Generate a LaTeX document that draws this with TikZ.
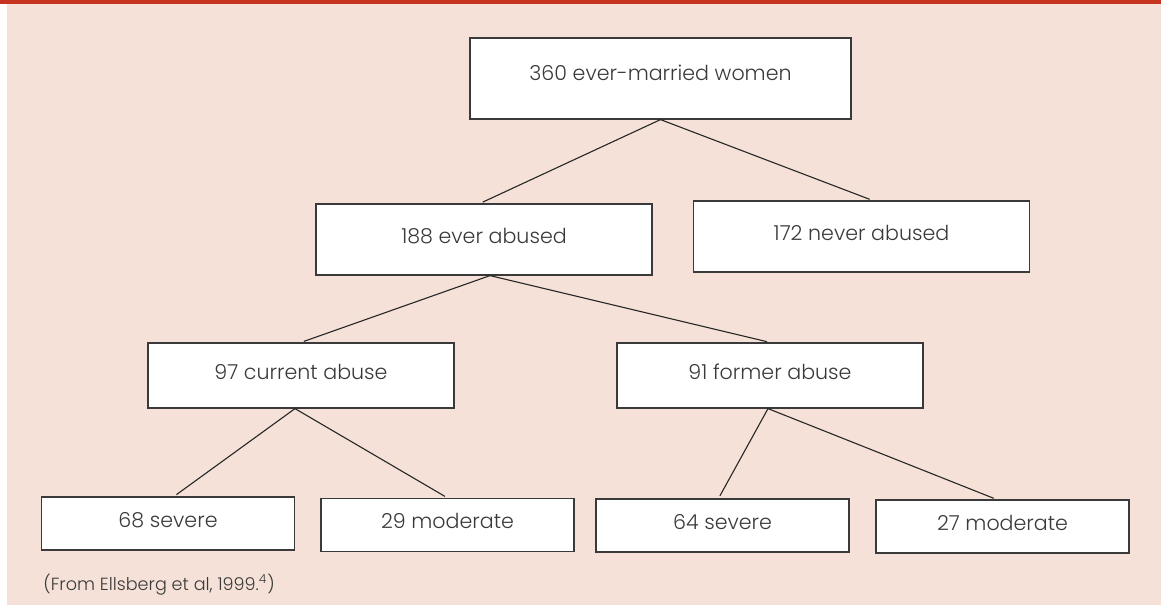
\documentclass[tikz,border=0pt]{standalone}
\usepackage{fontspec}
\setmainfont{Poppins}[UprightFont=* Light]

\definecolor{peach}{RGB}{245,225,215}
\definecolor{barred}{RGB}{198,52,32}
\definecolor{inkgray}{RGB}{58,58,58}

\begin{document}
\begin{tikzpicture}[x=0.5pt, y=-0.5pt,
					auto,
					every node/.style={text=inkgray},
					box/.style={draw=inkgray, fill=white, line width=0.6pt,
					            inner sep=0pt, text depth=4pt,
					            font=\fontsize{10.3}{12}\selectfont},
					top box/.style={box, minimum width=190.5pt, minimum height=40.5pt, text depth=6pt},
					upper box/.style={box, minimum width=168pt, minimum height=35.5pt},
					mid box/.style={box, minimum width=153pt, minimum height=32.5pt},
					leaf box/.style={box, minimum width=126.5pt, minimum height=26.5pt},
					link/.style={draw=black!85, line width=0.55pt, shorten >=1.5pt}]

  % background and top rule
  \useasboundingbox (0,0) rectangle (1161,605);
  \fill[peach] (7,3) rectangle (1161,605);
  \fill[barred] (0,0) rectangle (1161,3.5);

  \node[top box]   (all)     at (660.5,78.5) {360 ever-married women};
  \node[upper box] (ever)    at (484,239.5)  {188 ever abused};
  \node[upper box] (never)   at (861.5,236.5) {172 never abused};
  \node[mid box]   (current) at (301,375.5)  {97 current abuse};
  \node[mid box]   (former)  at (770,375.5)  {91 former abuse};
  \node[leaf box]  (cursev)  at (168,523.5)  {68 severe};
  \node[leaf box]  (curmod)  at (447.5,525)  {29 moderate};
  \node[leaf box]  (forsev)  at (722.5,525.5) {64 severe};
  \node[leaf box]  (formod)  at (1002.5,526.5) {27 moderate};

  \node[anchor=west, inner sep=0pt, font=\fontsize{8.8}{10}\selectfont] (source) at (43,585)
    {(From Ellsberg et al, 1999.\textsuperscript{4})};

  \path[link]
    (all.south) edge ([xshift=-2pt]ever.north)
                edge ([xshift=5.5pt]never.north)
    ([xshift=3pt]ever.south) edge (current.north)
                             edge (former.north)
    ([xshift=-3pt]current.south) edge ([xshift=3pt]cursev.north)
                                 edge (curmod.north)
    ([xshift=-1pt]former.south) edge ([xshift=-2pt]forsev.north)
                                edge ([xshift=-3pt]formod.north)
;
\end{tikzpicture}
\end{document}
